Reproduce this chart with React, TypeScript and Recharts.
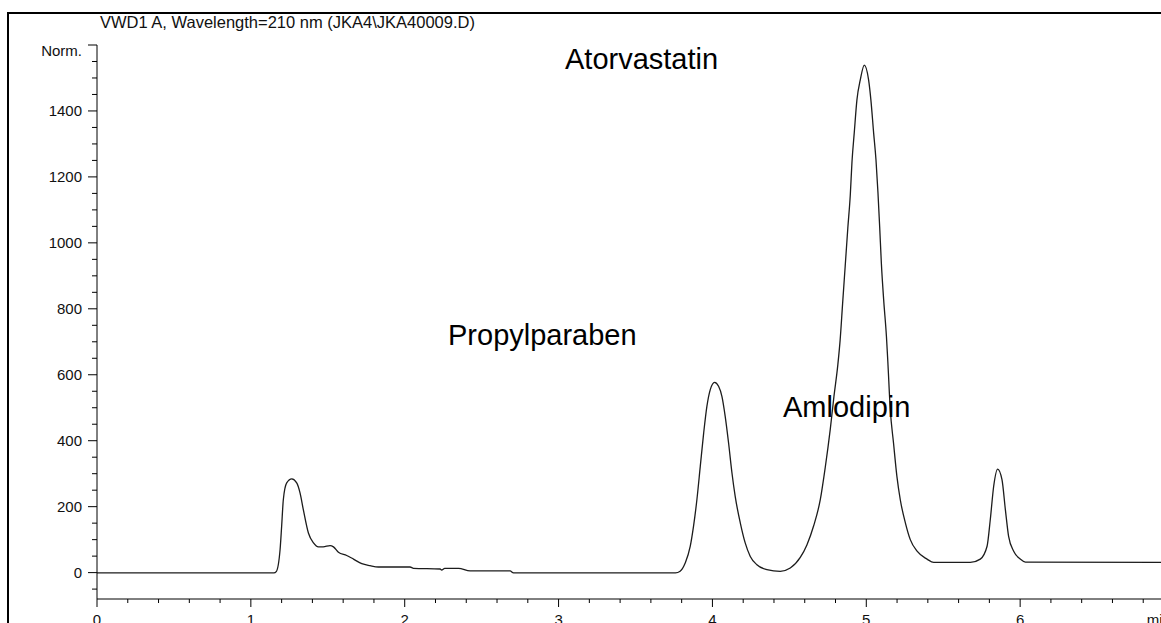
import React from "react"
import { LineChart, Line, XAxis, YAxis } from "recharts"

// retention time (min) and detector response (Norm.)
const times = [
	0, 1.15, 1.165, 1.19, 1.2, 1.211, 1.233, 1.266, 1.298, 1.32, 1.341, 1.374, 1.407, 1.439, 1.47,
	1.515, 1.537, 1.569, 1.623, 1.667, 1.721, 1.775, 1.829, 2.035, 2.057, 2.23, 2.24, 2.26, 2.35,
	2.425, 2.685, 2.707, 3.76, 3.79, 3.823, 3.856, 3.877, 3.899, 3.921, 3.943, 3.964, 3.986, 4.014,
	4.04, 4.062, 4.083, 4.105, 4.127, 4.148, 4.181, 4.213, 4.246, 4.289, 4.354, 4.441, 4.506, 4.571,
	4.614, 4.658, 4.701, 4.733, 4.766, 4.79, 4.815, 4.83, 4.846, 4.863, 4.88, 4.896, 4.907, 4.922,
	4.939, 4.961, 4.987, 5.015, 5.03, 5.048, 5.063, 5.076, 5.087, 5.098, 5.113, 5.131, 5.14, 5.156,
	5.177, 5.199, 5.221, 5.254, 5.286, 5.33, 5.395, 5.438, 5.676, 5.741, 5.785, 5.806, 5.828, 5.854,
	5.882, 5.904, 5.925, 5.958, 6.001, 6.034, 7,
]
const signal = [
	-1, -1, 3, 70, 140, 221, 272, 284, 272, 241, 191, 120, 90, 78, 78,
	82, 78, 62, 52, 41, 27, 21, 17, 17, 13, 11, 8, 13, 13,
	5, 5, -1, -1, 4, 29, 80, 140, 221, 322, 423, 504, 555, 577,
	565, 534, 474, 393, 302, 231, 151, 90, 49, 24, 9, 4, 14, 46,
	84, 142, 221, 318, 435, 535, 630, 705, 815, 930, 1045, 1145, 1245, 1335,
	1433, 1494, 1539, 1494, 1433, 1332, 1252, 1151, 1049, 938, 827, 716, 640, 494,
	393, 292, 221, 151, 100, 65, 41, 31, 31, 41, 80, 161, 262, 314,
	282, 191, 110, 65, 41, 32, 31,
]

const xTicks = [
	0, 0.2, 0.4, 0.6, 0.8, 1, 1.2, 1.4, 1.6, 1.8, 2, 2.2, 2.4, 2.6, 2.8, 3, 3.2, 3.4, 3.6, 3.8,
	4, 4.2, 4.4, 4.6, 4.8, 5, 5.2, 5.4, 5.6, 5.8, 6, 6.2, 6.4, 6.6, 6.8, 7,
]
const yTicks = [
	-50, 0, 50, 100, 150, 200, 250, 300, 350, 400, 450, 500, 550, 600, 650, 700, 750, 800, 850,
	900, 950, 1000, 1050, 1100, 1150, 1200, 1250, 1300, 1350, 1400, 1450, 1500, 1550, 1600,
]

const peakNames = ["Atorvastatin", "Propylparaben", "Amlodipin"]
const title = "VWD1 A, Wavelength=210 nm (JKA4\\JKA40009.D)"

const data = times.map((t, i) => ({ t, v: signal[i] }))

const font = "'Liberation Sans', Arial, sans-serif"

const XTick = (props: any) => {
	const { x, y, payload } = props
	const val = payload.value
	const major = Math.abs(val - Math.round(val)) < 1e-6
	let label = major ? String(Math.round(val)) : ""
	if (val === 7) label = "min"
	return (
		<g>
			<line x1={x} x2={x} y1={y} y2={y + (major ? 8 : 4)} stroke="#000" />
			{label && (
				<text
					x={val === 7 ? x - 3 : x}
					y={y + 26}
					textAnchor={val === 7 ? "end" : "middle"}
					fontSize={15}
					fontFamily={font}
					fill="#111"
				>
					{label}
				</text>
			)}
		</g>
	)
}

const YTick = (props: any) => {
	const { x, y, payload } = props
	const val = payload.value
	const major = val % 200 === 0 && val >= 0
	let label = major && val < 1600 ? String(val) : ""
	if (val === 1600) label = "Norm."
	return (
		<g>
			<line x1={x - (major ? 9 : 5)} x2={x} y1={y} y2={y} stroke="#000" />
			{label && (
				<text
					x={x - 15}
					y={val === 1600 ? y + 11 : y + 5.5}
					textAnchor="end"
					fontSize={15}
					fontFamily={font}
					fill="#111"
				>
					{label}
				</text>
			)}
		</g>
	)
}

export default function App() {
	return (
		<div
			style={{
				position: "absolute",
				left: 0,
				top: 0,
				width: 1161,
				height: 623,
				overflow: "hidden",
				background: "#fff",
			}}
		>
			<LineChart
				width={1174}
				height={623}
				data={data}
				margin={{ top: 45, right: 0, bottom: 0, left: 0 }}
			>
				<XAxis
					dataKey="t"
					type="number"
					domain={[0, 7]}
					ticks={xTicks}
					interval={0}
					height={24}
					tickSize={0}
					tickMargin={0}
					tickLine={false}
					axisLine={{ stroke: "#000" }}
					tick={<XTick />}
					allowDataOverflow
				/>
				<YAxis
					type="number"
					domain={[-80, 1600]}
					ticks={yTicks}
					interval={0}
					width={97}
					tickSize={0}
					tickMargin={0}
					tickLine={false}
					axisLine={{ stroke: "#000" }}
					tick={<YTick />}
					allowDataOverflow
				/>
				<Line
					type="monotone"
					dataKey="v"
					stroke="#1c1c1c"
					strokeWidth={1.3}
					dot={false}
					isAnimationActive={false}
				/>
			</LineChart>
			<svg
				width={1161}
				height={623}
				style={{ position: "absolute", left: 0, top: 0, pointerEvents: "none" }}
			>
				<line x1={8} x2={8} y1={12} y2={623} stroke="#000" strokeWidth={2} />
				<line x1={7} x2={1161} y1={13} y2={13} stroke="#000" strokeWidth={2} />
				<text x={100} y={28} fontSize={16.5} fontFamily={font} fill="#111">
					{title}
				</text>
				<text x={565} y={69} fontSize={29} fontFamily={font} fill="#000">
					{peakNames[0]}
				</text>
				<text x={448} y={345} fontSize={29} fontFamily={font} fill="#000">
					{peakNames[1]}
				</text>
				<text x={783} y={417} fontSize={29} fontFamily={font} fill="#000">
					{peakNames[2]}
				</text>
			</svg>
		</div>
	)
}
